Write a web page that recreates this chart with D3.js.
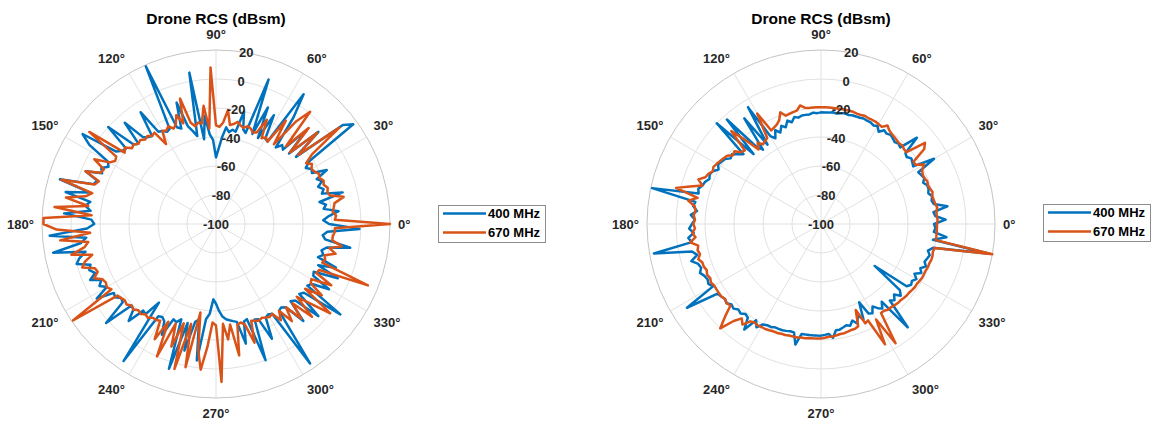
<!DOCTYPE html>
<html><head><meta charset="utf-8">
<script src="https://cdn.jsdelivr.net/npm/d3@7"></script>
<style>body{margin:0;background:#fff}svg{display:block}text{font-family:"Liberation Sans",Arial,sans-serif;}</style>
</head><body><svg id="c" width="1152" height="424"></svg>
<script>
// ---- data ----
const angleDeg = d3.range(0, 360, 2);
const seriesNames = ["400 MHz", "670 MHz"];
const titleText = "Drone RCS (dBsm)";
const rTicks = [-100, -80, -60, -40, -20, 0, 20];
const thetaTicks = [0, 30, 60, 90, 120, 150, 180, 210, 240, 270, 300, 330];

// left panel
const rcs400_A = [
 -22,-26,-22,-15,-25,-23,-27,-10,-24,-22,
 -25,-21,-24,-15,-25,-24,-27,-22,17,11,
 -28,-5,-30,-10,-31,-29,-33,-9,8,-33,
 -32,-15,-34,-12,-33,6,-34,-32,-20,-35,
 -34,-36,-33,-40,-48,-54,-42,-38,-25,-41,
 6,-38,-34,-30,-12,-30,-28,19,-27,-28,
 -26,-25,-7,-25,-24,-22,-6,-23,-21,0,
 -19,-18,-15,11,3,-14,-16,-12,-14,-3,
 -13,-11,12,-10,6,-12,-9,-13,5,-14,
 -16,-11,15,-10,-6,14,-8,-3,0,-9,
 -7,-10,-5,-12,-9,-13,-3,-15,-14,-17,
 -16,2,-19,-18,-10,-22,-21,-33,14,-25,
 -26,-24,-15,-28,-27,-30,5,-29,-10,-31,
 -33,-5,-34,-38,-48,-45,-40,-36,-34,-33,
 -32,-31,-15,-30,-31,0,-29,-28,-12,-27,
 -28,-27,16,-26,-27,-25,-10,-26,-24,-5,
 -25,-23,6,-24,-22,-10,-24,-25,-8,-24,
 -12,-26,-23,-25,-22,-6,-24,-26,-23,-1];
const rcs670_A = [
 20,-18,-17,-19,-18,-17,-10,-19,-20,-19,
 -21,-20,-22,-21,-23,-24,-22,-25,-18,8,
 -26,-6,-29,-8,-28,1,-10,-32,-14,-33,
 -31,-33,-20,-31,-32,-30,-29,-31,-30,-28,
 -30,-31,-21,-30,-33,-32,8,-34,-18,-30,
 -29,-31,-28,-10,-27,-20,-26,-28,-25,-27,
 -26,-35,-24,-25,-23,-24,-22,-23,-21,-22,
 -18,-20,8,-17,-18,-15,-5,-14,-13,-3,
 -14,-12,11,-12,-8,5,-11,12,-14,19,
 19,10,-13,8,-11,-8,2,-12,-6,-3,
 -11,-12,-8,-13,-14,-13,-15,19,-16,-17,
 -18,-17,-19,-18,-20,-19,-21,-20,-22,-22,
 -23,-10,-25,0,-26,-10,-28,4,-29,1,
 -38,-12,1,-15,-32,-30,9,-31,-20,-30,
 -8,-29,-30,-28,-14,-29,-28,-27,-28,-27,
 -26,-27,-20,-26,-15,-25,-12,-24,-8,-25,
 -14,0,-24,-12,-23,-24,-10,-23,-22,13,
 -22,-21,-22,-15,-20,-12,-19,-19,-18,-18];

// right panel
const rcs400_B = [
 -22,-14,-21,-22,-12,-21,-22,-21,-23,-22,
 -22,-24,-22,-23,-24,-10,-25,-24,-23,-25,
 -24,-11,-24,-23,-24,-23,-22,-23,-22,-25,
 -22,-23,-22,-22,-21.5,-22,-22,-22,-22.5,-22,
 -22.5,-23,-22.5,-23,-23,-23,-23.5,-23,-24,-24,
 -24,-25,-24,-27,-25,-29,-27,-31,-28,-33,
 -30,-5,-34,-10,-35,-30,-3,-33,0,-28,
 -25,-22,-23,-20,-19,-18,-20,-17,-16,-17,
 -15,-14,-12,-13,19,-12,-11,-14,-10,-13,
 -11,-9,-12,-8,-10,17,-9,-12,-7,-11,
 -12,-10,-12,-13,-12,-14,9,-14,-15,-16,
 -15,-17,-16,-18,-17,-19,-18,-10,-20,-16,
 -20,-21,-21,-22,-22,-22,-22.5,-23,-23,-15,
 -23,-23,-23,-23,-23,-23,-23.5,-24,-21,-26,
 -26,-27,-28,-27,-30,-27,-32,-28,-40,-30,
 -29,-33,-30,-28,-32,-7,-29,-27,-30,-26,
 -29,-53,-27,-25,-26,-24,-27,-23,-25,-22,
 -24,-23,-22,-24,-21,18,-22,-13,-22,-21];
const rcs670_B = [
 -20,-19.5,-20,-20,-19,-20,-20.5,-21,-20,-21,
 -21.5,-21,-22,-22,-21,-18,-23,-23,-12,-9,
 -23,-23,-22,-22.5,-22,-21.5,-21,-20,-18,-21,
 -20.5,-20,-20,-20,-19.5,-20,-20,-19.5,-19.5,-19.5,
 -19.5,-19.5,-19.5,-19.5,-19.5,-19.5,-19.5,-19.5,-19.5,-19,
 -17,-20,-20.5,-21,-21.5,-18,-23,-25,-26,-27,
 -12,-30,-31,-32,-29,-33,-22,-11,-27,-26,
 -22,-23,-20,-19,-18,-17,-16,-17,-15,-14,
 -10,-14,-6,3,-13,-7,-12,-13,-12,-13,
 -12,-13,-11,-13,-9,-14,-13,-14,-12,-14,
 -14,-15,-14,-15,-14,-15,-15,-15,-15,-16,
 -15,-16,-8,0,-10,-15,-12,-17,-18,-17.5,
 -18,-18,-18.5,-19,-19,-19.5,-19.5,-20,-20,-20,
 -20.5,-20.5,-21,-21,-21,-21,-21.5,-22,-22,-22.5,
 -23,-23,-23.5,-24,-24,-25,-36,-25,-26,-6,
 -24,-3,-26,-26,-25,-25,-24.5,-24,-24,-23.5,
 -23,-23,-22.5,-22,-22,-21.5,-21,-21,-21,-20.5,
 -20.5,-20,-20,-20.5,-20,20,-20,-20,-20,-20];

// ---- drawing ----
const W = 1152, H = 424, R = 174;
const colors = ["#0072BD", "#D95319"];
const svg = d3.select("#c");
svg.append("rect").attr("width", W).attr("height", H).attr("fill", "#fff");

const r = d3.scaleLinear().domain([rTicks[0], rTicks[rTicks.length - 1]]).range([0, R]).clamp(true);
const rad = a => a * Math.PI / 180;

const panels = [
  { cx: 216, cy: 224, series: [rcs400_A, rcs670_A], legend: { x: 438, y: 205 } },
  { cx: 821, cy: 224, series: [rcs400_B, rcs670_B], legend: { x: 1043, y: 204 } }
];

panels.forEach(p => {
  const g = svg.append("g").attr("transform", `translate(${p.cx},${p.cy})`);
  g.selectAll("circle.grid").data(rTicks.slice(1, -1)).join("circle")
    .attr("r", d => r(d)).attr("fill", "none").attr("stroke", "#e1e1e1").attr("stroke-width", 1);
  g.selectAll("line.spoke").data(thetaTicks).join("line")
    .attr("x1", 0).attr("y1", 0)
    .attr("x2", d => R * Math.cos(rad(d))).attr("y2", d => -R * Math.sin(rad(d)))
    .attr("stroke", "#e1e1e1").attr("stroke-width", 1);
  g.append("circle").attr("r", R).attr("fill", "none").attr("stroke", "#c4c4c4").attr("stroke-width", 1);

  const line = d3.lineRadial()
    .angle(d => rad(90 - d[0]))
    .radius(d => r(d[1]))
    .curve(d3.curveLinearClosed);
  p.series.forEach((s, i) => {
    g.append("path")
      .attr("d", line(angleDeg.map((a, k) => [a, s[k]])))
      .attr("fill", "none").attr("stroke", colors[i]).attr("stroke-width", 2.5)
      .attr("stroke-linejoin", "round");
  });

  g.selectAll("text.rt").data(rTicks).join("text")
    .attr("x", d => r(d) * Math.cos(rad(80)))
    .attr("y", d => -r(d) * Math.sin(rad(80)))
    .attr("text-anchor", "middle").attr("dominant-baseline", "central")
    .attr("font-size", 13).attr("font-weight", "bold").attr("fill", "#262626")
    .text(d => d);

  const off = R + 8;
  g.selectAll("text.tt").data(thetaTicks).join("text")
    .attr("x", d => off * Math.cos(rad(d)))
    .attr("y", d => -off * Math.sin(rad(d)))
    .attr("text-anchor", d => { const c = Math.cos(rad(d)); return c > 0.3 ? "start" : (c < -0.3 ? "end" : "middle"); })
    .attr("dy", d => { const s = Math.sin(rad(d)); return s > 0.3 ? "-0.25em" : (s < -0.3 ? "0.95em" : "0.35em"); })
    .attr("font-size", 13).attr("font-weight", "bold").attr("fill", "#262626")
    .text(d => d + "°");

  svg.append("text").attr("x", p.cx).attr("y", 18).attr("dominant-baseline", "central")
    .attr("text-anchor", "middle").attr("font-size", 15.5).attr("font-weight", "bold").attr("fill", "#000")
    .text(titleText);

  const L = svg.append("g").attr("transform", `translate(${p.legend.x},${p.legend.y})`);
  L.append("rect").attr("x", 0.5).attr("y", 0.5).attr("width", 107).attr("height", 37)
    .attr("fill", "#fff").attr("stroke", "#8c8c8c").attr("stroke-width", 1);
  seriesNames.forEach((n, i) => {
    const yy = 8.5 + i * 19;
    L.append("line").attr("x1", 5).attr("x2", 48).attr("y1", yy).attr("y2", yy)
      .attr("stroke", colors[i]).attr("stroke-width", 2.5);
    L.append("text").attr("x", 50).attr("y", yy).attr("dominant-baseline", "central")
      .attr("font-size", 13).attr("font-weight", "bold").attr("fill", "#000").text(n);
  });
});
</script></body></html>
